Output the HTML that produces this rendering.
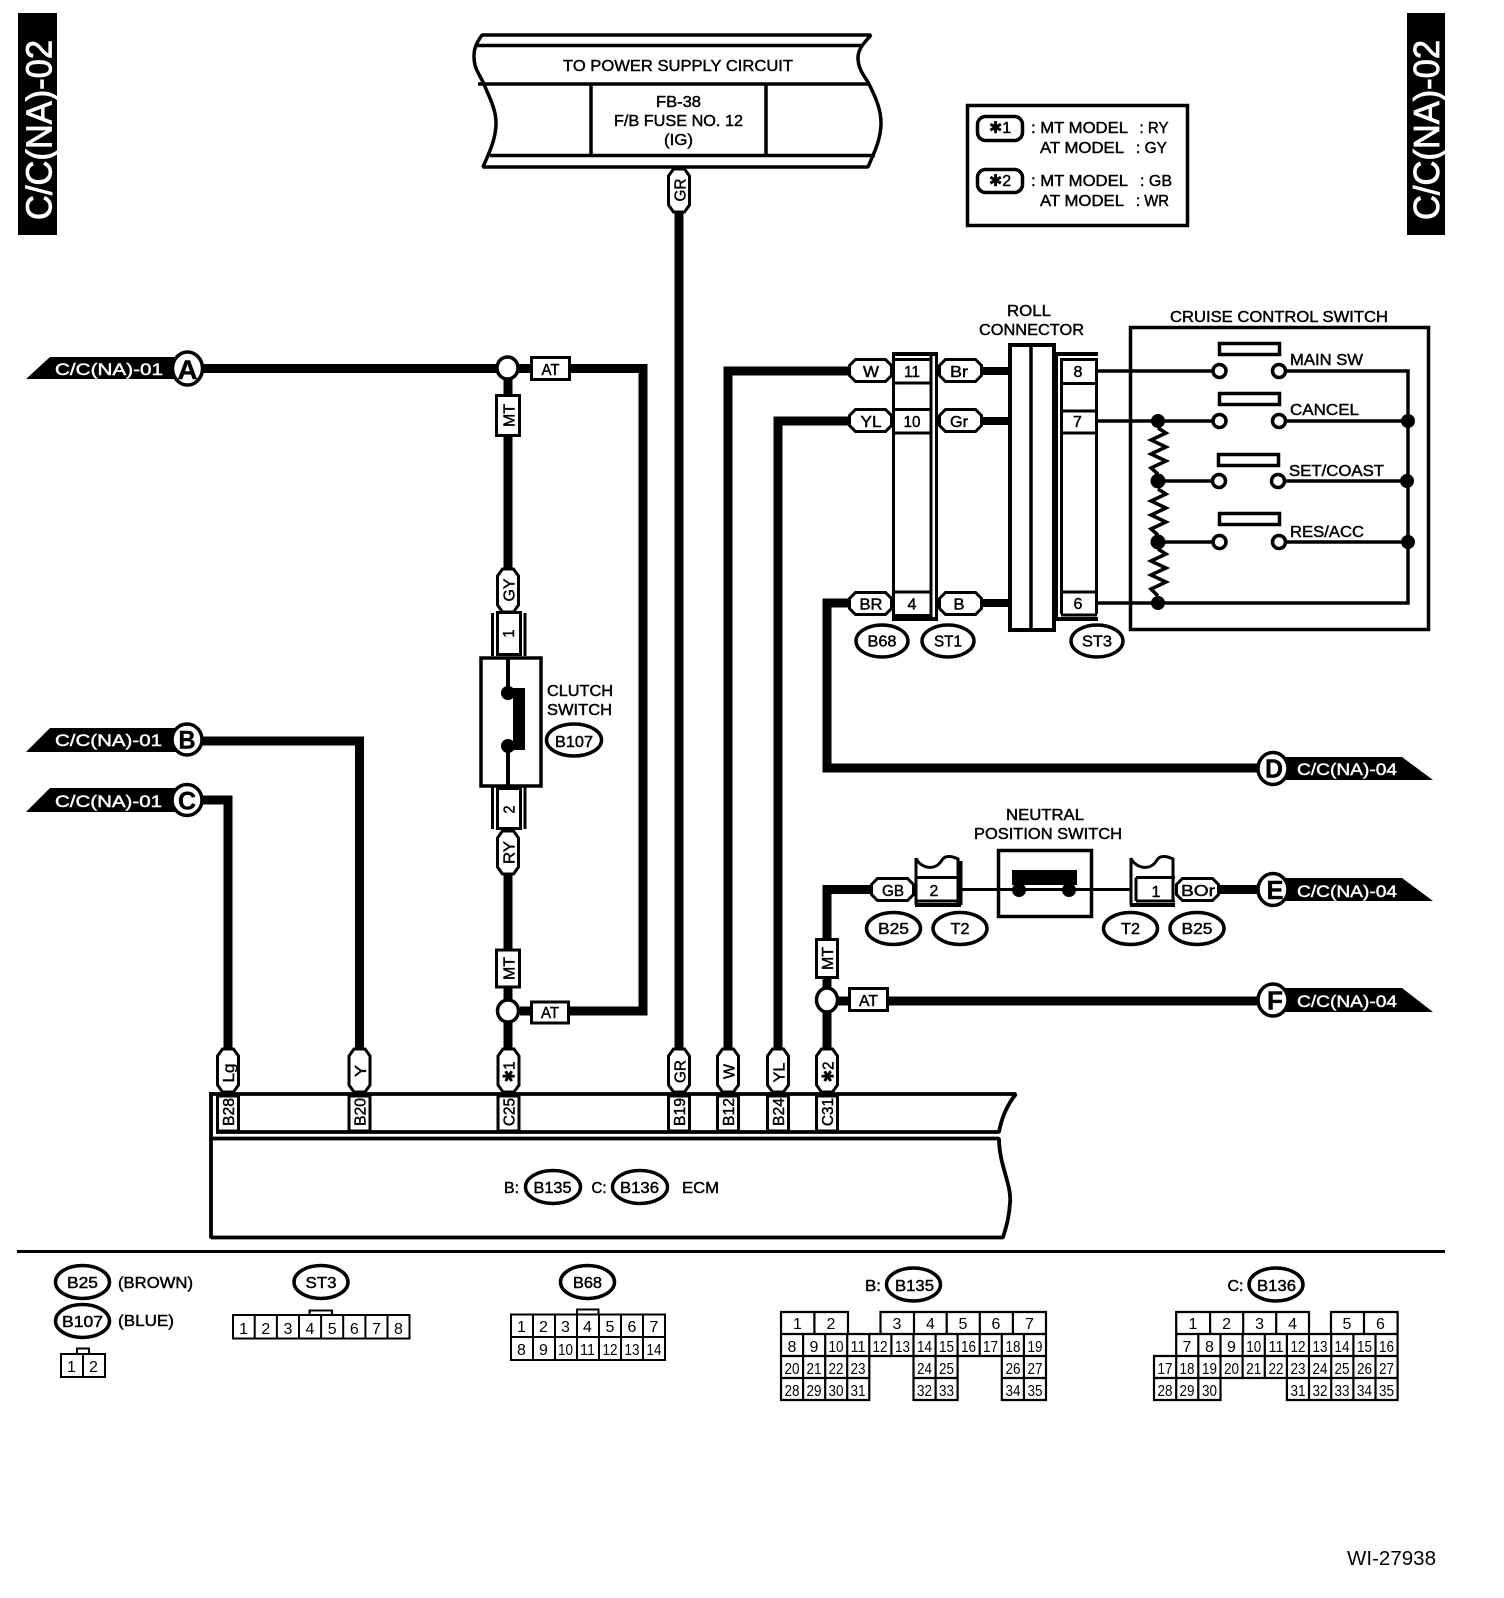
<!DOCTYPE html>
<html><head><meta charset="utf-8"><style>
html,body{margin:0;padding:0;background:#fff}
svg{display:block}
text{font-family:"Liberation Sans","DejaVu Sans",sans-serif;font-size:16px;fill:#000;stroke:#000;stroke-width:.45;text-anchor:middle}
.w{fill:#fff;stroke:#fff}
.n{fill:none;stroke:#000}
.b{fill:#fff;stroke:#000;stroke-width:3}
.o{fill:#fff;stroke:#000;stroke-width:3.5}
.k{fill:#000;stroke:none}
</style></head><body>
<svg width="1504" height="1598" viewBox="0 0 1504 1598" xmlns="http://www.w3.org/2000/svg">
<defs>
<polygon id="vt" points="-10.500,7 -5.500,0 5.500,0 10.500,7 10.500,36 5.500,43 -5.500,43 -10.500,36"/>
<polygon id="ht" points="0,6 6,0 36,0 42,6 42,16 36,22 6,22 0,16"/>
</defs>
<rect width="1504" height="1598" fill="#fff"/>
<!-- side bars -->
<rect class="k" x="18" y="13" width="39" height="222"/>
<rect class="k" x="1407" y="13" width="38" height="222"/>
<text class="w" style="font-size:36px;stroke-width:.8" transform="translate(51.500,130) rotate(-90)" textLength="180" lengthAdjust="spacingAndGlyphs">C/C(NA)-02</text>
<text class="w" style="font-size:36px;stroke-width:.8" transform="translate(1439,130) rotate(-90)" textLength="180" lengthAdjust="spacingAndGlyphs">C/C(NA)-02</text>

<!-- power banner -->
<g class="n" style="stroke-width:3.5;stroke-linejoin:bevel">
<path d="M482 35H871C862 45 858 50 858 58C858 70 866 78 869 84C876 98 881 110 881 123C881 140 873 155 868 167H483C488 155 496 140 496 123C496 108 488 95 484 84C478 72 474 68 474 56C474 48 477 42 482 35Z"/>
<path d="M477 45.500H862M478 84H869M490 155.500H875M591 84V155M766 84V155"/>
</g>
<text x="678" y="71" textLength="230" lengthAdjust="spacingAndGlyphs">TO POWER SUPPLY CIRCUIT</text>
<text x="678.500" y="107" textLength="45" lengthAdjust="spacingAndGlyphs">FB-38</text>
<text x="678.500" y="126" textLength="129" lengthAdjust="spacingAndGlyphs">F/B FUSE NO. 12</text>
<text x="678.500" y="145" textLength="29" lengthAdjust="spacingAndGlyphs">(IG)</text>

<!-- legend -->
<rect class="n" style="stroke-width:3.5" x="967.500" y="105.500" width="220" height="120"/>
<rect class="n" style="stroke-width:3.5" x="977.500" y="116.500" width="45" height="24" rx="8"/>
<rect class="n" style="stroke-width:3.5" x="977.500" y="169.500" width="45" height="23" rx="8"/>
<text x="1000" y="133">✱1</text><text x="1000" y="186">✱2</text>
<text x="1079.500" y="133" textLength="97" lengthAdjust="spacingAndGlyphs">: MT MODEL</text>
<text x="1154" y="133" textLength="29" lengthAdjust="spacingAndGlyphs">: RY</text>
<text x="1082" y="153" textLength="84" lengthAdjust="spacingAndGlyphs">AT MODEL</text>
<text x="1151.500" y="153" textLength="31" lengthAdjust="spacingAndGlyphs">: GY</text>
<text x="1079.500" y="186" textLength="97" lengthAdjust="spacingAndGlyphs">: MT MODEL</text>
<text x="1156" y="186" textLength="32" lengthAdjust="spacingAndGlyphs">: GB</text>
<text x="1082" y="206" textLength="84" lengthAdjust="spacingAndGlyphs">AT MODEL</text>
<text x="1152.500" y="206" textLength="33" lengthAdjust="spacingAndGlyphs">: WR</text>

<!-- thick wires -->
<g class="n" style="stroke-width:9">
<path d="M200 368.500H643V1011H520"/>
<path d="M508 368V612M508 830V1050"/>
<path d="M679 200V1050"/>
<path d="M728 1050V371H850"/>
<path d="M778 1050V421H850"/>
<path d="M850 603H827V768H1260"/>
<path d="M872 889.500H827V940"/>
<path d="M827 975V1050"/>
<path d="M835 1001H1260"/>
<path d="M200 741H359.500V1050"/>
<path d="M200 800H228V1050"/>
<path d="M1215 889.500H1260"/>
<path d="M980 371H1009M980 421H1009M980 603H1009" style="stroke-width:8"/>
</g>

<!-- left flags -->
<polygon class="k" points="26,379 50,357 180,357 180,379"/>
<polygon class="k" points="26,752 50,728 180,728 180,752"/>
<polygon class="k" points="26,812 50,788 180,788 180,812"/>
<text class="w" x="109" y="375" style="font-size:17px" textLength="108" lengthAdjust="spacingAndGlyphs">C/C(NA)-01</text>
<text class="w" x="108.500" y="746" style="font-size:17px" textLength="107" lengthAdjust="spacingAndGlyphs">C/C(NA)-01</text>
<text class="w" x="108.500" y="807" style="font-size:17px" textLength="107" lengthAdjust="spacingAndGlyphs">C/C(NA)-01</text>
<ellipse class="o" cx="187.500" cy="368.500" rx="15" ry="16.500"/>
<ellipse class="o" cx="187" cy="739.500" rx="15" ry="15.500"/>
<ellipse class="o" cx="187" cy="800" rx="15" ry="15.500"/>
<text x="187.500" y="379" style="font-size:27px;font-weight:bold" textLength="20" lengthAdjust="spacingAndGlyphs">A</text>
<text x="187" y="748.500" style="font-size:25px;font-weight:bold" textLength="17" lengthAdjust="spacingAndGlyphs">B</text>
<text x="187" y="809.500" style="font-size:25px;font-weight:bold" textLength="18" lengthAdjust="spacingAndGlyphs">C</text>

<!-- right flags -->
<polygon class="k" points="1280,757 1402,757 1433,780 1280,780"/>
<polygon class="k" points="1280,878 1402,878 1433,901 1280,901"/>
<polygon class="k" points="1280,988 1402,988 1433,1012 1280,1012"/>
<text class="w" x="1347" y="775" style="font-size:17px" textLength="100" lengthAdjust="spacingAndGlyphs">C/C(NA)-04</text>
<text class="w" x="1347" y="897" style="font-size:17px" textLength="100" lengthAdjust="spacingAndGlyphs">C/C(NA)-04</text>
<text class="w" x="1347" y="1007" style="font-size:17px" textLength="100" lengthAdjust="spacingAndGlyphs">C/C(NA)-04</text>
<ellipse class="o" cx="1273" cy="768.500" rx="15" ry="16"/>
<ellipse class="o" cx="1273" cy="889.500" rx="15" ry="16"/>
<ellipse class="o" cx="1273" cy="1000" rx="15" ry="16"/>
<text x="1274" y="777.500" style="font-size:26px;font-weight:bold" textLength="18" lengthAdjust="spacingAndGlyphs">D</text>
<text x="1275" y="899" style="font-size:26px;font-weight:bold" textLength="17" lengthAdjust="spacingAndGlyphs">E</text>
<text x="1275" y="1009.500" style="font-size:26px;font-weight:bold" textLength="16" lengthAdjust="spacingAndGlyphs">F</text>

<!-- junctions -->
<ellipse class="o" cx="507.500" cy="368" rx="10.500" ry="11"/>
<ellipse class="o" cx="508" cy="1011" rx="10.500" ry="11"/>
<ellipse class="o" cx="827" cy="1000" rx="10.500" ry="12"/>

<!-- MT / AT boxes -->
<rect class="b" x="531.500" y="357.500" width="38" height="22"/>
<text x="550.500" y="375" textLength="18" lengthAdjust="spacingAndGlyphs">AT</text>
<rect class="b" x="496.500" y="395.500" width="23" height="40"/>
<text transform="translate(514.500,415.500) rotate(-90)" textLength="23" lengthAdjust="spacingAndGlyphs">MT</text>
<rect class="b" x="496.500" y="950" width="23" height="37"/>
<text transform="translate(514.500,968.500) rotate(-90)" textLength="23" lengthAdjust="spacingAndGlyphs">MT</text>
<rect class="b" x="531.500" y="1002" width="37" height="21"/>
<text x="550" y="1018" textLength="18" lengthAdjust="spacingAndGlyphs">AT</text>
<rect class="b" x="816.500" y="939.500" width="21" height="38"/>
<text transform="translate(833,958.500) rotate(-90)" textLength="23" lengthAdjust="spacingAndGlyphs">MT</text>
<rect class="b" x="849.500" y="988.500" width="38" height="22"/>
<text x="868.500" y="1006" textLength="19" lengthAdjust="spacingAndGlyphs">AT</text>

<!-- GR top -->
<use class="b" href="#vt" x="679" y="169"/>
<text transform="translate(685.500,190) rotate(-90)" textLength="23" lengthAdjust="spacingAndGlyphs">GR</text>

<!-- clutch switch -->
<path class="n" style="stroke-width:3" d="M492.500 613V656M525 613V656M492.500 787V829M525 787V829"/>
<rect class="b" x="497.500" y="612.500" width="23" height="42"/>
<rect class="b" x="497.500" y="788.500" width="23" height="40"/>
<use class="b" href="#vt" x="508" y="569"/>
<use class="b" href="#vt" x="508" y="831"/>
<text transform="translate(514.500,590) rotate(-90)" textLength="23" lengthAdjust="spacingAndGlyphs">GY</text>
<text transform="translate(514.500,852.500) rotate(-90)" textLength="23" lengthAdjust="spacingAndGlyphs">RY</text>
<text transform="translate(514,633.500) rotate(-90)" textLength="8" lengthAdjust="spacingAndGlyphs">1</text>
<text transform="translate(514.500,809.500) rotate(-90)" textLength="8" lengthAdjust="spacingAndGlyphs">2</text>
<rect class="o" x="481" y="658" width="60" height="128"/>
<path class="n" style="stroke-width:4" d="M508 658V693M508 746V785"/>
<circle class="k" cx="508" cy="693" r="7"/><circle class="k" cx="508" cy="746" r="7"/>
<polygon class="k" points="510,688 525,688 525,750 510,750 510,743 513,743 513,695 510,695"/>
<text x="580" y="696" textLength="66" lengthAdjust="spacingAndGlyphs">CLUTCH</text>
<text x="579.500" y="715" textLength="65" lengthAdjust="spacingAndGlyphs">SWITCH</text>
<ellipse class="o" cx="574" cy="740" rx="27.500" ry="16"/>
<text x="574" y="747" textLength="38" lengthAdjust="spacingAndGlyphs">B107</text>

<!-- B68/ST1 connector -->
<path class="k" d="M892 352H938V356H892ZM892 617H938V621H892Z"/>
<path class="n" style="stroke-width:3" d="M893.500 354V619M931 356V617M936.500 354V619M893.500 359.500H931M893.500 383H931M893.500 409.500H931M893.500 433H931M893.500 592H931M893.500 615.500H931"/>
<use class="b" href="#ht" x="849.500" y="359.500"/>
<use class="b" href="#ht" x="849.500" y="409.500"/>
<use class="b" href="#ht" x="849.500" y="592.500"/>
<use class="b" href="#ht" x="939.500" y="359.500"/>
<use class="b" href="#ht" x="939.500" y="409.500"/>
<use class="b" href="#ht" x="939.500" y="592.500"/>
<text x="871" y="377" textLength="16" lengthAdjust="spacingAndGlyphs">W</text>
<text x="871" y="427" textLength="21" lengthAdjust="spacingAndGlyphs">YL</text>
<text x="871" y="609.500" textLength="23" lengthAdjust="spacingAndGlyphs">BR</text>
<text x="912" y="377" textLength="16" lengthAdjust="spacingAndGlyphs">11</text>
<text x="912" y="427" textLength="17" lengthAdjust="spacingAndGlyphs">10</text>
<text x="912" y="609.500">4</text>
<text x="959" y="377" textLength="18" lengthAdjust="spacingAndGlyphs">Br</text>
<text x="959" y="427" textLength="18" lengthAdjust="spacingAndGlyphs">Gr</text>
<text x="959" y="609.500" textLength="11" lengthAdjust="spacingAndGlyphs">B</text>

<!-- roll connector -->
<rect class="n" style="stroke-width:4" x="1010" y="345" width="44" height="285"/>
<path class="n" style="stroke-width:3.5" d="M1031 345V630"/>
<text x="1029" y="316" textLength="44" lengthAdjust="spacingAndGlyphs">ROLL</text>
<text x="1031.500" y="335" textLength="105" lengthAdjust="spacingAndGlyphs">CONNECTOR</text>

<!-- ST3 connector -->
<path class="k" d="M1055 352H1098V356H1055ZM1055 617H1098V621H1055Z"/>
<path class="n" style="stroke-width:3" d="M1056.500 354V619M1061.500 358V614M1096.500 358V614M1061 359.500H1097M1061 383.500H1097M1061 411H1097M1061 433H1097M1061 592H1097M1061 615H1097"/>
<text x="1078" y="377">8</text><text x="1077.500" y="427">7</text><text x="1078" y="609">6</text>

<!-- switch box -->
<rect class="n" style="stroke-width:3.5" x="1130.500" y="327.500" width="298" height="302"/>
<text x="1279" y="322" textLength="218" lengthAdjust="spacingAndGlyphs">CRUISE CONTROL SWITCH</text>
<path class="n" style="stroke-width:3.500" d="M1098 371H1212M1285 371H1408V603H1098M1098 421H1212M1285 421H1408M1158 481H1212M1285 481H1408M1158 542H1212M1285 542H1408"/>
<g class="n" style="stroke-width:3.500">
<path d="M1158 428L1166 433L1151 440L1166 447L1151 454L1166 461L1151 468L1158 474"/>
<path d="M1158 489L1166 494L1151 501L1166 508L1151 515L1166 522L1151 529L1158 535"/>
<path d="M1158 549L1166 554L1151 561L1166 568L1151 575L1166 582L1151 589L1158 596"/>
</g>
<circle class="k" cx="1158" cy="421" r="7"/><circle class="k" cx="1158" cy="481" r="7.500"/><circle class="k" cx="1158" cy="542" r="7.500"/><circle class="k" cx="1158" cy="603" r="7"/>
<circle class="k" cx="1408" cy="421" r="7"/><circle class="k" cx="1407" cy="481" r="7"/><circle class="k" cx="1408" cy="542" r="7"/>
<circle class="o" cx="1219.500" cy="371" r="6.500"/><circle class="o" cx="1279" cy="371" r="6.500"/>
<circle class="o" cx="1219.500" cy="421" r="6.500"/><circle class="o" cx="1279" cy="421" r="6.500"/>
<circle class="o" cx="1219" cy="481" r="6.500"/><circle class="o" cx="1278" cy="481" r="6.500"/>
<circle class="o" cx="1219.500" cy="542" r="6.500"/><circle class="o" cx="1279" cy="542" r="6.500"/>
<g class="n" style="stroke-width:3.500">
<rect x="1219.500" y="343.500" width="60" height="11"/>
<rect x="1219.500" y="393.500" width="60" height="11"/>
<rect x="1218.500" y="454.500" width="60" height="11"/>
<rect x="1219.500" y="513.500" width="60" height="11"/>
</g>
<text x="1326.500" y="365" textLength="73" lengthAdjust="spacingAndGlyphs">MAIN SW</text>
<text x="1324.500" y="415" textLength="69" lengthAdjust="spacingAndGlyphs">CANCEL</text>
<text x="1336.500" y="476" textLength="95" lengthAdjust="spacingAndGlyphs">SET/COAST</text>
<text x="1327" y="537" textLength="74" lengthAdjust="spacingAndGlyphs">RES/ACC</text>

<!-- ovals under connectors -->
<ellipse class="o" cx="882" cy="641" rx="26" ry="16"/><text x="882" y="646.500" textLength="29" lengthAdjust="spacingAndGlyphs">B68</text>
<ellipse class="o" cx="948" cy="641" rx="26" ry="16"/><text x="948" y="646.500" textLength="28" lengthAdjust="spacingAndGlyphs">ST1</text>
<ellipse class="o" cx="1097" cy="641" rx="26" ry="16"/><text x="1097" y="646.500" textLength="30" lengthAdjust="spacingAndGlyphs">ST3</text>

<!-- neutral position switch -->
<text x="1045" y="820" textLength="78" lengthAdjust="spacingAndGlyphs">NEUTRAL</text>
<text x="1048" y="839" textLength="148" lengthAdjust="spacingAndGlyphs">POSITION SWITCH</text>
<path class="n" style="stroke-width:3" d="M961 889.500H1131"/>
<rect class="n" style="stroke-width:3.500" x="998.500" y="850.500" width="93" height="66"/>
<rect class="k" x="1012" y="870" width="65" height="15"/>
<circle class="k" cx="1019" cy="890" r="7"/><circle class="k" cx="1069" cy="890" r="7"/>

<path class="n" style="stroke-width:3" d="M916 858C920 868 935 872 942 860C945 855 952 856 958 859V905M961 861V905M916 858V905M916 877.500H958M916 901H958"/>
<rect class="k" x="915" y="903" width="46" height="4"/>
<path class="n" style="stroke-width:3" d="M1131 858C1135 868 1150 872 1157 860C1160 855 1167 856 1173 859V901M1131 858V905M1136 877.500V901M1136 877.500H1175M1136 901H1175"/>
<rect class="k" x="1130" y="903" width="45" height="4"/>
<use class="b" href="#ht" x="871.500" y="878.500"/>
<use class="b" href="#ht" x="1176.500" y="878.500"/>
<text x="893" y="896" textLength="22" lengthAdjust="spacingAndGlyphs">GB</text>
<text x="934" y="896">2</text><text x="1156" y="897">1</text>
<text x="1198" y="896" textLength="34" lengthAdjust="spacingAndGlyphs">BOr</text>
<ellipse class="o" cx="893.500" cy="928.500" rx="27" ry="16"/><text x="893.500" y="934" textLength="31" lengthAdjust="spacingAndGlyphs">B25</text>
<ellipse class="o" cx="960" cy="928.500" rx="27" ry="16"/><text x="960" y="934" textLength="19" lengthAdjust="spacingAndGlyphs">T2</text>
<ellipse class="o" cx="1130.500" cy="928.500" rx="27" ry="16"/><text x="1130.500" y="934" textLength="19" lengthAdjust="spacingAndGlyphs">T2</text>
<ellipse class="o" cx="1197" cy="928.500" rx="27" ry="16"/><text x="1197" y="934" textLength="31" lengthAdjust="spacingAndGlyphs">B25</text>

<!-- ECM -->
<g class="n" style="stroke-width:3.800;stroke-linejoin:bevel">
<path d="M209 1094H1016Q1003 1110 999 1132H216M209 1138.500H999C999 1165 1012 1185 1010 1203C1009 1220 1005 1230 1003 1237.500H211V1092"/>
</g>
<rect class="b" x="217.500" y="1096" width="21" height="35"/>
<rect class="b" x="349" y="1096" width="21" height="35"/>
<rect class="b" x="498" y="1096" width="21" height="35"/>
<rect class="b" x="668.500" y="1096" width="21" height="35"/>
<rect class="b" x="717.500" y="1096" width="21" height="35"/>
<rect class="b" x="767.500" y="1096" width="21" height="35"/>
<rect class="b" x="816.500" y="1096" width="21" height="35"/>
<use class="b" href="#vt" x="228" y="1049"/>
<use class="b" href="#vt" x="359.500" y="1049"/>
<use class="b" href="#vt" x="508.500" y="1049"/>
<use class="b" href="#vt" x="679" y="1049"/>
<use class="b" href="#vt" x="728" y="1049"/>
<use class="b" href="#vt" x="778" y="1049"/>
<use class="b" href="#vt" x="827" y="1049"/>
<text transform="translate(234,1073) rotate(-90)" textLength="19" lengthAdjust="spacingAndGlyphs">Lg</text>
<text transform="translate(366,1071) rotate(-90)" textLength="12" lengthAdjust="spacingAndGlyphs">Y</text>
<text transform="translate(514.500,1072) rotate(-90)" textLength="21" lengthAdjust="spacingAndGlyphs">✱1</text>
<text transform="translate(685.500,1071.500) rotate(-90)" textLength="23" lengthAdjust="spacingAndGlyphs">GR</text>
<text transform="translate(734.500,1071.500) rotate(-90)" textLength="15" lengthAdjust="spacingAndGlyphs">W</text>
<text transform="translate(784.500,1072.500) rotate(-90)" textLength="20" lengthAdjust="spacingAndGlyphs">YL</text>
<text transform="translate(833.500,1072) rotate(-90)" textLength="21" lengthAdjust="spacingAndGlyphs">✱2</text>
<text transform="translate(234,1112) rotate(-90)" textLength="28" lengthAdjust="spacingAndGlyphs">B28</text>
<text transform="translate(365.500,1112) rotate(-90)" textLength="28" lengthAdjust="spacingAndGlyphs">B20</text>
<text transform="translate(514.500,1112) rotate(-90)" textLength="28" lengthAdjust="spacingAndGlyphs">C25</text>
<text transform="translate(685,1112) rotate(-90)" textLength="28" lengthAdjust="spacingAndGlyphs">B19</text>
<text transform="translate(734,1112) rotate(-90)" textLength="28" lengthAdjust="spacingAndGlyphs">B12</text>
<text transform="translate(784,1112) rotate(-90)" textLength="28" lengthAdjust="spacingAndGlyphs">B24</text>
<text transform="translate(833,1112) rotate(-90)" textLength="28" lengthAdjust="spacingAndGlyphs">C31</text>
<text x="511.500" y="1193" textLength="15" lengthAdjust="spacingAndGlyphs">B:</text>
<ellipse class="o" cx="553" cy="1187" rx="27.500" ry="16.500"/>
<text x="552.500" y="1193" textLength="38" lengthAdjust="spacingAndGlyphs">B135</text>
<text x="599" y="1193" textLength="15" lengthAdjust="spacingAndGlyphs">C:</text>
<ellipse class="o" cx="640" cy="1187" rx="27.500" ry="16.500"/>
<text x="639.500" y="1193" textLength="39" lengthAdjust="spacingAndGlyphs">B136</text>
<text x="700.500" y="1193" textLength="37" lengthAdjust="spacingAndGlyphs">ECM</text>

<!-- separator -->
<rect class="k" x="17" y="1250" width="1428" height="3"/>

<!-- bottom: B25 / B107 -->
<ellipse class="o" cx="82.500" cy="1282" rx="27" ry="16.500"/>
<text x="82.500" y="1288" textLength="31" lengthAdjust="spacingAndGlyphs">B25</text>
<text x="155.500" y="1288" textLength="75" lengthAdjust="spacingAndGlyphs">(BROWN)</text>
<ellipse class="o" cx="82.500" cy="1321" rx="27" ry="16.500"/>
<text x="82.500" y="1327" textLength="41" lengthAdjust="spacingAndGlyphs">B107</text>
<text x="146" y="1326" textLength="56" lengthAdjust="spacingAndGlyphs">(BLUE)</text>
<path class="n" style="stroke-width:2" d="M61 1354H105V1377H61ZM83 1354V1377M77 1354V1348.500H89V1354"/>
<text x="71.500" y="1372" style="stroke-width:0">1</text><text x="93.500" y="1372" style="stroke-width:0">2</text>

<!-- ST3 -->
<ellipse class="o" cx="321" cy="1282" rx="27" ry="16.500"/>
<text x="321" y="1288" textLength="31" lengthAdjust="spacingAndGlyphs">ST3</text>
<path class="n" style="stroke-width:2" d="M233 1315H409.500V1338.500H233ZM254.700 1315V1338.500M276.900 1315V1338.500M299 1315V1338.500M321.100 1315V1338.500M343.200 1315V1338.500M365.400 1315V1338.500M387.500 1315V1338.500M309.500 1315V1310.500H332V1315"/>
<text x="243.600" y="1334" style="stroke-width:0">1</text><text x="265.800" y="1334" style="stroke-width:0">2</text><text x="288" y="1334" style="stroke-width:0">3</text><text x="310" y="1334" style="stroke-width:0">4</text><text x="332.200" y="1334" style="stroke-width:0">5</text><text x="354.300" y="1334" style="stroke-width:0">6</text><text x="376.400" y="1334" style="stroke-width:0">7</text><text x="398.500" y="1334" style="stroke-width:0">8</text>

<!-- B68 -->
<ellipse class="o" cx="587.500" cy="1282" rx="27" ry="16.500"/>
<text x="587.500" y="1288" textLength="29" lengthAdjust="spacingAndGlyphs">B68</text>
<path class="n" style="stroke-width:2" d="M511 1314.500H665V1360H511ZM511 1337H665M533 1314.500V1360M555 1314.500V1360M577 1314.500V1360M599 1314.500V1360M621 1314.500V1360M643 1314.500V1360M577 1314.500V1309.500H598.500V1314.500"/>
<text x="521.500" y="1332" style="stroke-width:0">1</text><text x="543.500" y="1332" style="stroke-width:0">2</text><text x="565.500" y="1332" style="stroke-width:0">3</text><text x="587.500" y="1332" style="stroke-width:0">4</text><text x="610" y="1332" style="stroke-width:0">5</text><text x="632" y="1332" style="stroke-width:0">6</text><text x="654" y="1332" style="stroke-width:0">7</text>
<text x="521.500" y="1355" style="stroke-width:0">8</text><text x="543.500" y="1355" style="stroke-width:0">9</text><text x="565.500" y="1355" textLength="15" lengthAdjust="spacingAndGlyphs" style="stroke-width:0">10</text><text x="587.500" y="1355" textLength="15" lengthAdjust="spacingAndGlyphs" style="stroke-width:0">11</text><text x="610" y="1355" textLength="15" lengthAdjust="spacingAndGlyphs" style="stroke-width:0">12</text><text x="632" y="1355" textLength="15" lengthAdjust="spacingAndGlyphs" style="stroke-width:0">13</text><text x="654" y="1355" textLength="15" lengthAdjust="spacingAndGlyphs" style="stroke-width:0">14</text>

<!-- B135 -->
<text x="873" y="1291" textLength="16" lengthAdjust="spacingAndGlyphs">B:</text>
<ellipse class="o" cx="913.500" cy="1284.500" rx="27" ry="16.500"/>
<text x="914.500" y="1291" textLength="39" lengthAdjust="spacingAndGlyphs">B135</text>
<path class="n" style="stroke-width:2.200" d="M781 1312H848V1334H781ZM814.400 1312V1334M880.500 1312H1046V1334H880.500ZM914 1312V1334M946.700 1312V1334M979.800 1312V1334M1012.900 1312V1334M781 1334H1046V1356H781ZM803.100 1334V1356M825.200 1334V1356M847.200 1334V1356M869.300 1334V1356M891.400 1334V1356M913.500 1334V1356M935.600 1334V1356M957.600 1334V1356M979.700 1334V1356M1001.800 1334V1356M1023.900 1334V1356M781 1356H869.300V1400H781ZM781 1378H869.300M803.100 1356V1400M825.200 1356V1400M847.200 1356V1400M913.500 1356H957.600V1400H913.500ZM913.500 1378H957.600M935.600 1356V1400M1001.800 1356H1046V1400H1001.800ZM1001.800 1378H1046M1023.900 1356V1400"/>
<text style="stroke-width:0" x="797.500" y="1329">1</text><text style="stroke-width:0" x="831" y="1329">2</text><text style="stroke-width:0" x="897" y="1329">3</text><text style="stroke-width:0" x="930.500" y="1329">4</text><text style="stroke-width:0" x="963" y="1329">5</text><text style="stroke-width:0" x="996" y="1329">6</text><text style="stroke-width:0" x="1029.500" y="1329">7</text>
<text style="stroke-width:0" x="792" y="1352">8</text><text style="stroke-width:0" x="814" y="1352">9</text>
<text style="stroke-width:0" x="836" y="1352" textLength="15" lengthAdjust="spacingAndGlyphs">10</text><text style="stroke-width:0" x="858" y="1352" textLength="15" lengthAdjust="spacingAndGlyphs">11</text><text style="stroke-width:0" x="880" y="1352" textLength="15" lengthAdjust="spacingAndGlyphs">12</text><text style="stroke-width:0" x="902.500" y="1352" textLength="15" lengthAdjust="spacingAndGlyphs">13</text><text style="stroke-width:0" x="924.500" y="1352" textLength="15" lengthAdjust="spacingAndGlyphs">14</text><text style="stroke-width:0" x="946.500" y="1352" textLength="15" lengthAdjust="spacingAndGlyphs">15</text><text style="stroke-width:0" x="968.500" y="1352" textLength="15" lengthAdjust="spacingAndGlyphs">16</text><text style="stroke-width:0" x="990.500" y="1352" textLength="15" lengthAdjust="spacingAndGlyphs">17</text><text style="stroke-width:0" x="1013" y="1352" textLength="15" lengthAdjust="spacingAndGlyphs">18</text><text style="stroke-width:0" x="1035" y="1352" textLength="15" lengthAdjust="spacingAndGlyphs">19</text>
<text style="stroke-width:0" x="792" y="1374" textLength="15" lengthAdjust="spacingAndGlyphs">20</text><text style="stroke-width:0" x="814" y="1374" textLength="15" lengthAdjust="spacingAndGlyphs">21</text><text style="stroke-width:0" x="836" y="1374" textLength="15" lengthAdjust="spacingAndGlyphs">22</text><text style="stroke-width:0" x="858" y="1374" textLength="15" lengthAdjust="spacingAndGlyphs">23</text><text style="stroke-width:0" x="924.500" y="1374" textLength="15" lengthAdjust="spacingAndGlyphs">24</text><text style="stroke-width:0" x="946.500" y="1374" textLength="15" lengthAdjust="spacingAndGlyphs">25</text><text style="stroke-width:0" x="1013" y="1374" textLength="15" lengthAdjust="spacingAndGlyphs">26</text><text style="stroke-width:0" x="1035" y="1374" textLength="15" lengthAdjust="spacingAndGlyphs">27</text>
<text style="stroke-width:0" x="792" y="1396" textLength="15" lengthAdjust="spacingAndGlyphs">28</text><text style="stroke-width:0" x="814" y="1396" textLength="15" lengthAdjust="spacingAndGlyphs">29</text><text style="stroke-width:0" x="836" y="1396" textLength="15" lengthAdjust="spacingAndGlyphs">30</text><text style="stroke-width:0" x="858" y="1396" textLength="15" lengthAdjust="spacingAndGlyphs">31</text><text style="stroke-width:0" x="924.500" y="1396" textLength="15" lengthAdjust="spacingAndGlyphs">32</text><text style="stroke-width:0" x="946.500" y="1396" textLength="15" lengthAdjust="spacingAndGlyphs">33</text><text style="stroke-width:0" x="1013" y="1396" textLength="15" lengthAdjust="spacingAndGlyphs">34</text><text style="stroke-width:0" x="1035" y="1396" textLength="15" lengthAdjust="spacingAndGlyphs">35</text>

<!-- B136 -->
<text x="1235.500" y="1291" textLength="16" lengthAdjust="spacingAndGlyphs">C:</text>
<ellipse class="o" cx="1276" cy="1284.500" rx="27" ry="16.500"/>
<text x="1276.500" y="1291" textLength="39" lengthAdjust="spacingAndGlyphs">B136</text>
<path class="n" style="stroke-width:2.200" d="M1176.200 1312H1309V1334H1176.200ZM1210.100 1312V1334M1243.200 1312V1334M1276.200 1312V1334M1331 1312H1397.600V1334H1331ZM1364 1312V1334M1176.200 1334H1397.600V1356H1176.200ZM1198.300 1334V1356M1220.500 1334V1356M1242.600 1334V1356M1264.800 1334V1356M1286.900 1334V1356M1309 1334V1356M1331.200 1334V1356M1353.400 1334V1356M1375.500 1334V1356M1154 1356H1397.600V1378H1154ZM1176.200 1356V1378M1198.300 1356V1378M1220.500 1356V1378M1242.600 1356V1378M1264.800 1356V1378M1286.900 1356V1378M1309 1356V1378M1331.200 1356V1378M1353.400 1356V1378M1375.500 1356V1378M1154 1378H1220.500V1400H1154ZM1176.200 1378V1400M1198.300 1378V1400M1286.900 1378H1397.600V1400H1286.900ZM1309 1378V1400M1331.200 1378V1400M1353.400 1378V1400M1375.500 1378V1400"/>
<text style="stroke-width:0" x="1193" y="1329">1</text><text style="stroke-width:0" x="1226.600" y="1329">2</text><text style="stroke-width:0" x="1259.600" y="1329">3</text><text style="stroke-width:0" x="1292.600" y="1329">4</text><text style="stroke-width:0" x="1347" y="1329">5</text><text style="stroke-width:0" x="1380.500" y="1329">6</text>
<text style="stroke-width:0" x="1187" y="1352">7</text><text style="stroke-width:0" x="1209.500" y="1352">8</text><text style="stroke-width:0" x="1231.500" y="1352">9</text>
<text style="stroke-width:0" x="1253.700" y="1352" textLength="15" lengthAdjust="spacingAndGlyphs">10</text><text style="stroke-width:0" x="1276" y="1352" textLength="15" lengthAdjust="spacingAndGlyphs">11</text><text style="stroke-width:0" x="1298" y="1352" textLength="15" lengthAdjust="spacingAndGlyphs">12</text><text style="stroke-width:0" x="1320" y="1352" textLength="15" lengthAdjust="spacingAndGlyphs">13</text><text style="stroke-width:0" x="1342" y="1352" textLength="15" lengthAdjust="spacingAndGlyphs">14</text><text style="stroke-width:0" x="1364.500" y="1352" textLength="15" lengthAdjust="spacingAndGlyphs">15</text><text style="stroke-width:0" x="1386.500" y="1352" textLength="15" lengthAdjust="spacingAndGlyphs">16</text>
<text style="stroke-width:0" x="1165" y="1374" textLength="15" lengthAdjust="spacingAndGlyphs">17</text><text style="stroke-width:0" x="1187" y="1374" textLength="15" lengthAdjust="spacingAndGlyphs">18</text><text style="stroke-width:0" x="1209.500" y="1374" textLength="15" lengthAdjust="spacingAndGlyphs">19</text><text style="stroke-width:0" x="1231.500" y="1374" textLength="15" lengthAdjust="spacingAndGlyphs">20</text><text style="stroke-width:0" x="1253.700" y="1374" textLength="15" lengthAdjust="spacingAndGlyphs">21</text><text style="stroke-width:0" x="1276" y="1374" textLength="15" lengthAdjust="spacingAndGlyphs">22</text><text style="stroke-width:0" x="1298" y="1374" textLength="15" lengthAdjust="spacingAndGlyphs">23</text><text style="stroke-width:0" x="1320" y="1374" textLength="15" lengthAdjust="spacingAndGlyphs">24</text><text style="stroke-width:0" x="1342" y="1374" textLength="15" lengthAdjust="spacingAndGlyphs">25</text><text style="stroke-width:0" x="1364.500" y="1374" textLength="15" lengthAdjust="spacingAndGlyphs">26</text><text style="stroke-width:0" x="1386.500" y="1374" textLength="15" lengthAdjust="spacingAndGlyphs">27</text>
<text style="stroke-width:0" x="1165" y="1396" textLength="15" lengthAdjust="spacingAndGlyphs">28</text><text style="stroke-width:0" x="1187" y="1396" textLength="15" lengthAdjust="spacingAndGlyphs">29</text><text style="stroke-width:0" x="1209.500" y="1396" textLength="15" lengthAdjust="spacingAndGlyphs">30</text><text style="stroke-width:0" x="1298" y="1396" textLength="15" lengthAdjust="spacingAndGlyphs">31</text><text style="stroke-width:0" x="1320" y="1396" textLength="15" lengthAdjust="spacingAndGlyphs">32</text><text style="stroke-width:0" x="1342" y="1396" textLength="15" lengthAdjust="spacingAndGlyphs">33</text><text style="stroke-width:0" x="1364.500" y="1396" textLength="15" lengthAdjust="spacingAndGlyphs">34</text><text style="stroke-width:0" x="1386.500" y="1396" textLength="15" lengthAdjust="spacingAndGlyphs">35</text>

<text x="1391.500" y="1565" style="font-size:20px;stroke-width:0" textLength="89" lengthAdjust="spacingAndGlyphs">WI-27938</text>
</svg>
</body></html>
